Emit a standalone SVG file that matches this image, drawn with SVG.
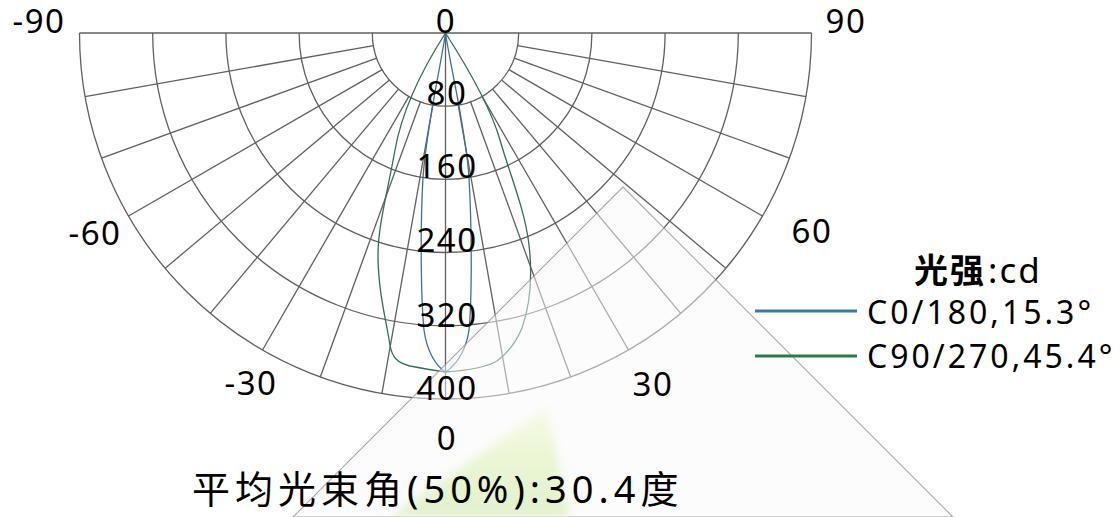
<svg xmlns="http://www.w3.org/2000/svg" xmlns:xlink="http://www.w3.org/1999/xlink" width="1120" height="517" viewBox="0 0 1120 517">
<defs>
<style>
.g{fill:none;stroke:#606060;stroke-width:1.3}
.lb{font-family:"Noto Sans","Noto Sans CJK SC",sans-serif;font-size:33px;letter-spacing:1.5px;fill:#000;text-anchor:middle}
.lg{font-family:"Noto Sans","Noto Sans CJK SC",sans-serif;font-size:32px;letter-spacing:3px;fill:#000}
.cb{fill:none;stroke:#3d7093;stroke-width:1.3}
.cg{fill:none;stroke:#336e50;stroke-width:1.3}
</style>
<line id="rad" x1="0" y1="73.2" x2="0" y2="366" class="g"/>
<linearGradient id="leaf" x1="0" y1="0" x2="0" y2="1">
<stop offset="0" stop-color="#eef7cf" stop-opacity="0.5"/>
<stop offset="0.5" stop-color="#e6f4c8" stop-opacity="0.8"/>
<stop offset="1" stop-color="#dff0c6" stop-opacity="0.9"/>
</linearGradient>
<filter id="soft" x="-20%" y="-20%" width="140%" height="140%"><feGaussianBlur stdDeviation="5"/></filter>
</defs>
<rect width="1120" height="517" fill="#fff"/>
<g id="grid">
<line x1="79.5" y1="33" x2="811.5" y2="33" class="g"/>
<line x1="445.5" y1="33" x2="445.5" y2="399" class="g"/>
<path class="g" d="M372.3,33 A73.2,73.2 0 0 0 518.7,33"/>
<path class="g" d="M299.1,33 A146.4,146.4 0 0 0 591.9,33"/>
<path class="g" d="M225.9,33 A219.6,219.6 0 0 0 665.1,33"/>
<path class="g" d="M152.7,33 A292.8,292.8 0 0 0 738.3,33"/>
<path class="g" d="M79.5,33 A366,366 0 0 0 811.5,33"/>
<g transform="translate(445.5,33)">
<use xlink:href="#rad" transform="rotate(10)"/><use xlink:href="#rad" transform="rotate(20)"/>
<use xlink:href="#rad" transform="rotate(30)"/><use xlink:href="#rad" transform="rotate(40)"/>
<use xlink:href="#rad" transform="rotate(50)"/><use xlink:href="#rad" transform="rotate(60)"/>
<use xlink:href="#rad" transform="rotate(70)"/><use xlink:href="#rad" transform="rotate(80)"/>
<use xlink:href="#rad" transform="rotate(-10)"/><use xlink:href="#rad" transform="rotate(-20)"/>
<use xlink:href="#rad" transform="rotate(-30)"/><use xlink:href="#rad" transform="rotate(-40)"/>
<use xlink:href="#rad" transform="rotate(-50)"/><use xlink:href="#rad" transform="rotate(-60)"/>
<use xlink:href="#rad" transform="rotate(-70)"/><use xlink:href="#rad" transform="rotate(-80)"/>
</g>
</g>
<g id="curves">
<path class="cb" d="M445.5,33 C440,70 426,130 423,178 C420,230 421,300 424,330 C427,352 436,366 445.5,372"/>
<path class="cb" d="M445.5,33 C451,70 466,130 469,178 C472,230 472,300 469,330 C466,352 455,366 445.5,372"/>
<path class="cg" d="M445.5,33 C425,65 403,105 395,150 C388,190 378,225 378,255 C378,290 386,320 390,345 C392,358 398,363 410,366 C425,369 438,371 445.5,372"/>
<path class="cg" d="M445.5,33 C466,65 490,105 500,140 C510,175 525,210 529,245 C533,280 530,305 522,328 C515,345 505,355 497,361 C485,368 460,371 445.5,372"/>
</g>
<g id="watermark">
<polygon points="623,187 953,517 293,517" fill="#fafafa" fill-opacity="0.5" stroke="#8c8c8c" stroke-width="1.1" stroke-opacity="0.75"/>
<polygon points="547,408 570,517 390,517" fill="url(#leaf)" filter="url(#soft)"/>
</g>
<g id="angle-labels">
<text class="lb" x="39" y="33">-90</text>
<text class="lb" x="446" y="33">0</text>
<text class="lb" x="846" y="33">90</text>
<text class="lb" x="95" y="245">-60</text>
<text class="lb" x="812" y="243">60</text>
<text class="lb" x="251" y="395">-30</text>
<text class="lb" x="653" y="396">30</text>
<text class="lb" x="447" y="450">0</text>
</g>
<g id="ring-labels">
<text class="lb" x="447" y="105">80</text>
<text class="lb" x="447" y="178">160</text>
<text class="lb" x="447" y="252">240</text>
<text class="lb" x="447" y="327">320</text>
<text class="lb" x="447" y="400">400</text>
</g>
<g id="legend">
<text x="914" y="283" font-family="'Noto Sans CJK SC',sans-serif" font-size="34" font-weight="bold" letter-spacing="2" fill="#000">光强</text>
<text x="988" y="283" font-family="'Noto Sans',sans-serif" font-size="35" letter-spacing="2" fill="#000">:cd</text>
<line x1="755" y1="311" x2="857" y2="311" stroke="#3a7ba5" stroke-width="3"/>
<text class="lg" x="867" y="324">C0/180,15.3°</text>
<line x1="755" y1="356" x2="857" y2="356" stroke="#2a7a4d" stroke-width="3"/>
<text class="lg" x="867" y="368">C90/270,45.4°</text>
</g>
<text id="title" x="192" y="503" font-family="'Noto Sans','Noto Sans CJK SC',sans-serif" font-size="38" letter-spacing="5" fill="#000">平均光束角(50%):30.4度</text>
</svg>
